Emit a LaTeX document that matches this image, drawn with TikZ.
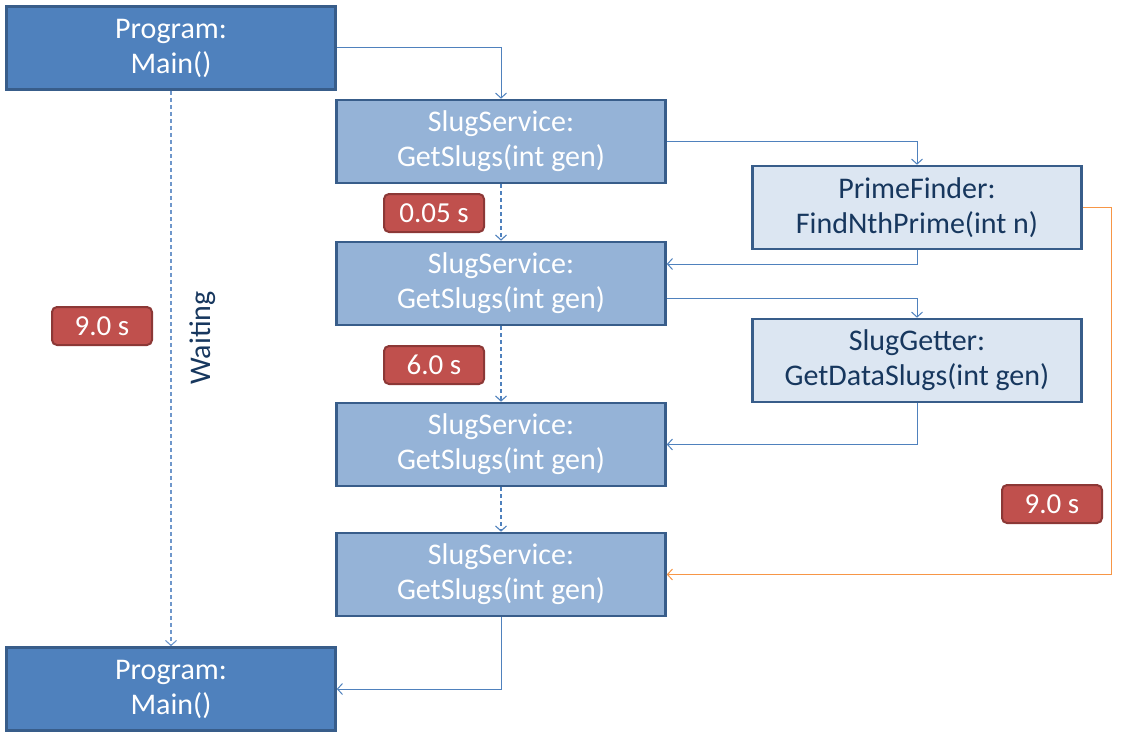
\documentclass[tikz,border=0pt]{standalone}
\usepackage{fontspec}
\setmainfont{Carlito}
\usetikzlibrary{arrows.meta}
\definecolor{darkblue}{HTML}{4F81BD}
\definecolor{midblue}{HTML}{95B3D7}
\definecolor{paleblue}{HTML}{DCE6F2}
\definecolor{edgeblue}{HTML}{385D8A}
\definecolor{navy}{HTML}{17375E}
\definecolor{waitblue}{HTML}{6F97CB}
\definecolor{badgered}{HTML}{C0504D}
\definecolor{badgeedge}{HTML}{8C3836}
\definecolor{callorange}{HTML}{F79646}

\begin{document}
\begin{tikzpicture}[
        x=1pt, y=-1pt,
        >={Straight Barb[length=5pt,width=11pt]},
        every node/.style={align=center, font=\fontsize{30}{35}\selectfont},
        box/.style={draw=edgeblue, line width=2.6pt, minimum width=329pt,
            minimum height=83pt, inner sep=0pt},
        program/.style={box, fill=darkblue, text=white},
        service/.style={box, fill=midblue, text=white},
        helper/.style={box, fill=paleblue, text=navy},
        timing/.style={draw=badgeedge, line width=2pt, fill=badgered, text=white,
            rounded corners=5pt, minimum width=100pt, minimum height=38pt,
            inner sep=0pt, font=\fontsize{29}{30}\selectfont},
        call/.style={->, draw=darkblue, line width=1pt},
        flow/.style={->, draw=darkblue, line width=1.1pt, dash pattern=on 4pt off 3pt},
        wait/.style={->, draw=waitblue, line width=1.1pt, dash pattern=on 4pt off 3pt},
        back/.style={->, draw=callorange, line width=1pt}
    ]
    \useasboundingbox (0,0) rectangle (1123,738);

    % call chain
    \node[program] (main) at (171,48) {Program:\\Main()};
    \node[service] (slugA) at (501,141.5) {SlugService:\\GetSlugs(int gen)};
    \node[service] (slugB) at (501,283.5) {SlugService:\\GetSlugs(int gen)};
    \node[service] (slugC) at (501,444.5) {SlugService:\\GetSlugs(int gen)};
    \node[service] (slugD) at (501,574.5) {SlugService:\\GetSlugs(int gen)};
    \node[program] (mainEnd) at (171,689) {Program:\\Main()};
    \node[helper] (prime) at (917,207.5) {PrimeFinder:\\FindNthPrime(int n)};
    \node[helper] (getter) at (917,360.5) {SlugGetter:\\GetDataSlugs(int gen)};

    % timings
    \node[timing] (tFirst) at (434,213) {0.05 s};
    \node[timing] (tWait) at (102,326) {9.0 s};
    \node[timing] (tSecond) at (434,365) {6.0 s};
    \node[timing] (tPrime) at (1052,504) {9.0 s};
    \node[rotate=90, text=navy] (waiting) at (203,338) {Waiting};

    % connectors
    \draw[call] (main.east |- 0,48) -| (slugA.north);
    \draw[wait] (main.south) -- (mainEnd.north);
    \draw[flow] (slugA.south) -- (slugB.north);
    \draw[flow] (slugB.south) -- (slugC.north);
    \draw[flow] (slugC.south) -- (slugD.north);
    \draw[call] (slugA.east) -| (prime.north);
    \draw[call] (prime.south) |- (slugB.east |- 0,264);
    \draw[call] (slugB.east |- 0,298) -| (getter.north);
    \draw[call] (getter.south) |- (slugC.east);
    \draw[back] (prime.east) -- ++(29,0) |- (slugD.east);
    \draw[call] (slugD.south) |- (mainEnd.east);
\end{tikzpicture}
\end{document}
